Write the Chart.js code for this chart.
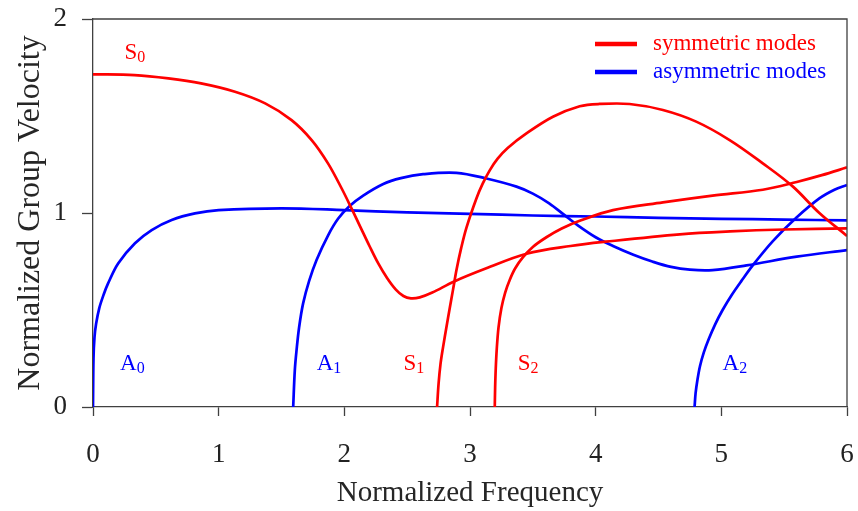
<!DOCTYPE html>
<html>
<head>
<meta charset="utf-8">
<script src="https://cdn.jsdelivr.net/npm/chart.js@4.4.0/dist/chart.umd.min.js"></script>
<style>
  html, body { margin: 0; padding: 0; background: #fff; }
</style>
</head>
<body>
<canvas id="chart" width="858" height="511"></canvas>
<script>
// dispersion curves (x = normalized frequency, y = normalized group velocity)
const s0X = [0, 0.33, 0.6, 0.86, 1.13, 1.37, 1.58, 1.74, 1.87, 1.98, 2.06, 2.13, 2.2, 2.27, 2.34, 2.41, 2.47, 2.53, 2.6, 2.7, 2.87, 3.13, 3.45, 3.8, 4.08, 4.67, 5.07, 5.5, 6];
const s0Y = [1.715, 1.711, 1.694, 1.668, 1.625, 1.565, 1.479, 1.376, 1.256, 1.125, 1.02, 0.925, 0.83, 0.74, 0.665, 0.605, 0.572, 0.56, 0.565, 0.59, 0.646, 0.715, 0.79, 0.83, 0.852, 0.89, 0.905, 0.915, 0.921];

const s1X = [2.738, 2.75, 2.765, 2.786, 2.812, 2.839, 2.865, 2.892, 2.93, 2.972, 3.051, 3.1, 3.157, 3.22, 3.3, 3.449, 3.66, 3.873, 4.03, 4.27, 4.535, 4.8, 5.066, 5.33, 5.57, 5.78, 6];
const s1Y = [0, 0.12, 0.22, 0.31, 0.41, 0.51, 0.605, 0.705, 0.82, 0.925, 1.075, 1.15, 1.22, 1.28, 1.335, 1.41, 1.496, 1.55, 1.562, 1.562, 1.531, 1.471, 1.376, 1.256, 1.136, 1.0, 0.882];

const s2X = [3.197, 3.2, 3.205, 3.213, 3.227, 3.25, 3.28, 3.316, 3.36, 3.422, 3.5, 3.608, 3.73, 3.873, 4.138, 4.535, 4.93, 5.33, 5.6, 5.8, 6];
const s2Y = [0, 0.1, 0.2, 0.3, 0.41, 0.51, 0.59, 0.655, 0.715, 0.772, 0.825, 0.875, 0.92, 0.96, 1.015, 1.055, 1.09, 1.12, 1.16, 1.195, 1.235];

const a0X = [0, 0.004, 0.012, 0.025, 0.05, 0.085, 0.12, 0.2, 0.334, 0.467, 0.626, 0.811, 1.0, 1.5, 2.0, 2.5, 3.0, 3.5, 4.0, 4.5, 5.0, 5.5, 6.0];
const a0Y = [0, 0.25, 0.36, 0.43, 0.51, 0.58, 0.637, 0.74, 0.844, 0.912, 0.964, 0.998, 1.015, 1.024, 1.015, 1.003, 0.996, 0.987, 0.982, 0.975, 0.97, 0.966, 0.962];

const a1X = [1.593, 1.606, 1.62, 1.64, 1.672, 1.72, 1.779, 1.871, 1.95, 2.04, 2.15, 2.31, 2.45, 2.627, 2.892, 3.13, 3.37, 3.5, 3.63, 3.75, 3.85, 4.0, 4.138, 4.3, 4.45, 4.6, 4.75, 4.93, 5.2, 5.6, 6.0];
const a1Y = [0, 0.19, 0.294, 0.41, 0.534, 0.65, 0.758, 0.885, 0.97, 1.035, 1.09, 1.15, 1.18, 1.2, 1.207, 1.178, 1.136, 1.1, 1.05, 0.99, 0.94, 0.875, 0.83, 0.785, 0.75, 0.722, 0.708, 0.706, 0.73, 0.775, 0.809];

const a2X = [4.787, 4.795, 4.81, 4.83, 4.86, 4.9, 4.95, 5.01, 5.08, 5.16, 5.25, 5.41, 5.596, 5.78, 5.9, 6];
const a2Y = [0, 0.07, 0.14, 0.21, 0.28, 0.35, 0.425, 0.5, 0.575, 0.65, 0.73, 0.855, 0.975, 1.075, 1.12, 1.144];

const xTicks = [0, 1, 2, 3, 4, 5, 6];
const yTicks = [0, 1, 2];

// mode names written next to the curves, anchored in data units
const modeNames = ["S", "A", "A", "S", "S", "A"];
const modeSubs = ["0", "0", "1", "1", "2", "2"];
const modeLabelX = [0.25, 0.215, 1.78, 2.47, 3.38, 5.01];
const modeLabelY = [1.795, 0.19, 0.19, 0.19, 0.19, 0.19];

const legendNames = ["symmetric modes", "asymmetric modes"];

const RED = "#ff0000";
const BLUE = "#0000ff";
const FONT = "'Liberation Serif', 'Times New Roman', serif";

function toPoints(xs, ys) {
  return xs.map((x, i) => ({ x: x, y: ys[i] }));
}

function curve(xs, ys, color) {
  return {
    data: toPoints(xs, ys),
    borderColor: color,
    backgroundColor: color,
    borderWidth: 2.7,
    showLine: true,
    pointRadius: 0,
    tension: 0.35,
    fill: false,
  };
}

// keep the plot box exactly where the layout padding puts it
function noScalePadding(s) {
  s.paddingLeft = 0;
  s.paddingRight = 0;
  s.paddingTop = 0;
  s.paddingBottom = 0;
}

// frame, mode labels and legend
const extras = {
  id: "extras",
  afterDatasetsDraw(chart) {
    const c = chart.ctx;
    const area = chart.chartArea;
    const xs = chart.scales.x;
    const ys = chart.scales.y;

    c.save();
    c.strokeStyle = "#404040";
    c.lineWidth = 1.3;
    c.beginPath();
    c.moveTo(area.left, area.top);
    c.lineTo(area.right, area.top);
    c.lineTo(area.right, area.bottom);
    c.stroke();

    c.textBaseline = "alphabetic";
    c.textAlign = "left";
    modeNames.forEach((name, i) => {
      const px = xs.getPixelForValue(modeLabelX[i]);
      const py = ys.getPixelForValue(modeLabelY[i]);
      c.fillStyle = name === "S" ? RED : BLUE;
      c.font = "23px " + FONT;
      c.fillText(name, px, py);
      const w = c.measureText(name).width;
      c.font = "16px " + FONT;
      c.fillText(modeSubs[i], px + w, py + 3);
    });

    const lx = area.right - 252;
    legendNames.forEach((name, i) => {
      const color = i === 0 ? RED : BLUE;
      const ly = area.top + 25 + i * 28;
      c.strokeStyle = color;
      c.lineWidth = 4.5;
      c.beginPath();
      c.moveTo(lx, ly);
      c.lineTo(lx + 42, ly);
      c.stroke();
      c.fillStyle = color;
      c.font = "23px " + FONT;
      c.textBaseline = "middle";
      c.fillText(name, lx + 58, ly);
    });
    c.restore();
  },
};

const ctx = document.getElementById("chart").getContext("2d");

new Chart(ctx, {
  type: "scatter",
  data: {
    datasets: [
      curve(s0X, s0Y, RED),
      curve(s1X, s1Y, RED),
      curve(s2X, s2Y, RED),
      curve(a0X, a0Y, BLUE),
      curve(a1X, a1Y, BLUE),
      curve(a2X, a2Y, BLUE),
    ],
  },
  options: {
    responsive: false,
    animation: false,
    layout: { padding: { top: 19, right: 11, left: 0, bottom: 0 } },
    plugins: { legend: { display: false }, tooltip: { enabled: false } },
    scales: {
      x: {
        type: "linear",
        min: xTicks[0],
        max: xTicks[xTicks.length - 1],
        afterBuildTicks: (s) => { s.ticks = xTicks.map((v) => ({ value: v })); },
        afterFit: (s) => { s.height = 104; noScalePadding(s); },
        ticks: { color: "#222", font: { family: FONT, size: 27 }, padding: 23, maxRotation: 0 },
        grid: { drawOnChartArea: false, tickLength: 9, tickColor: "#404040", tickWidth: 1.3 },
        border: { color: "#404040", width: 1.3 },
        title: {
          display: true,
          text: "Normalized Frequency",
          color: "#262626",
          font: { family: FONT, size: 29 },
          padding: { top: 0, bottom: 0 },
        },
      },
      y: {
        type: "linear",
        min: yTicks[0],
        max: yTicks[yTicks.length - 1],
        afterBuildTicks: (s) => { s.ticks = yTicks.map((v) => ({ value: v })); },
        afterFit: (s) => { s.width = 93; noScalePadding(s); },
        ticks: { color: "#222", font: { family: FONT, size: 27 }, padding: 15 },
        grid: { drawOnChartArea: false, tickLength: 11, tickColor: "#404040", tickWidth: 1.3 },
        border: { color: "#404040", width: 1.3 },
        title: {
          display: true,
          text: "Normalized Group Velocity",
          color: "#262626",
          font: { family: FONT, size: 32 },
          padding: { top: 11, bottom: 0 },
        },
      },
    },
  },
  plugins: [extras],
});
</script>
</body>
</html>
